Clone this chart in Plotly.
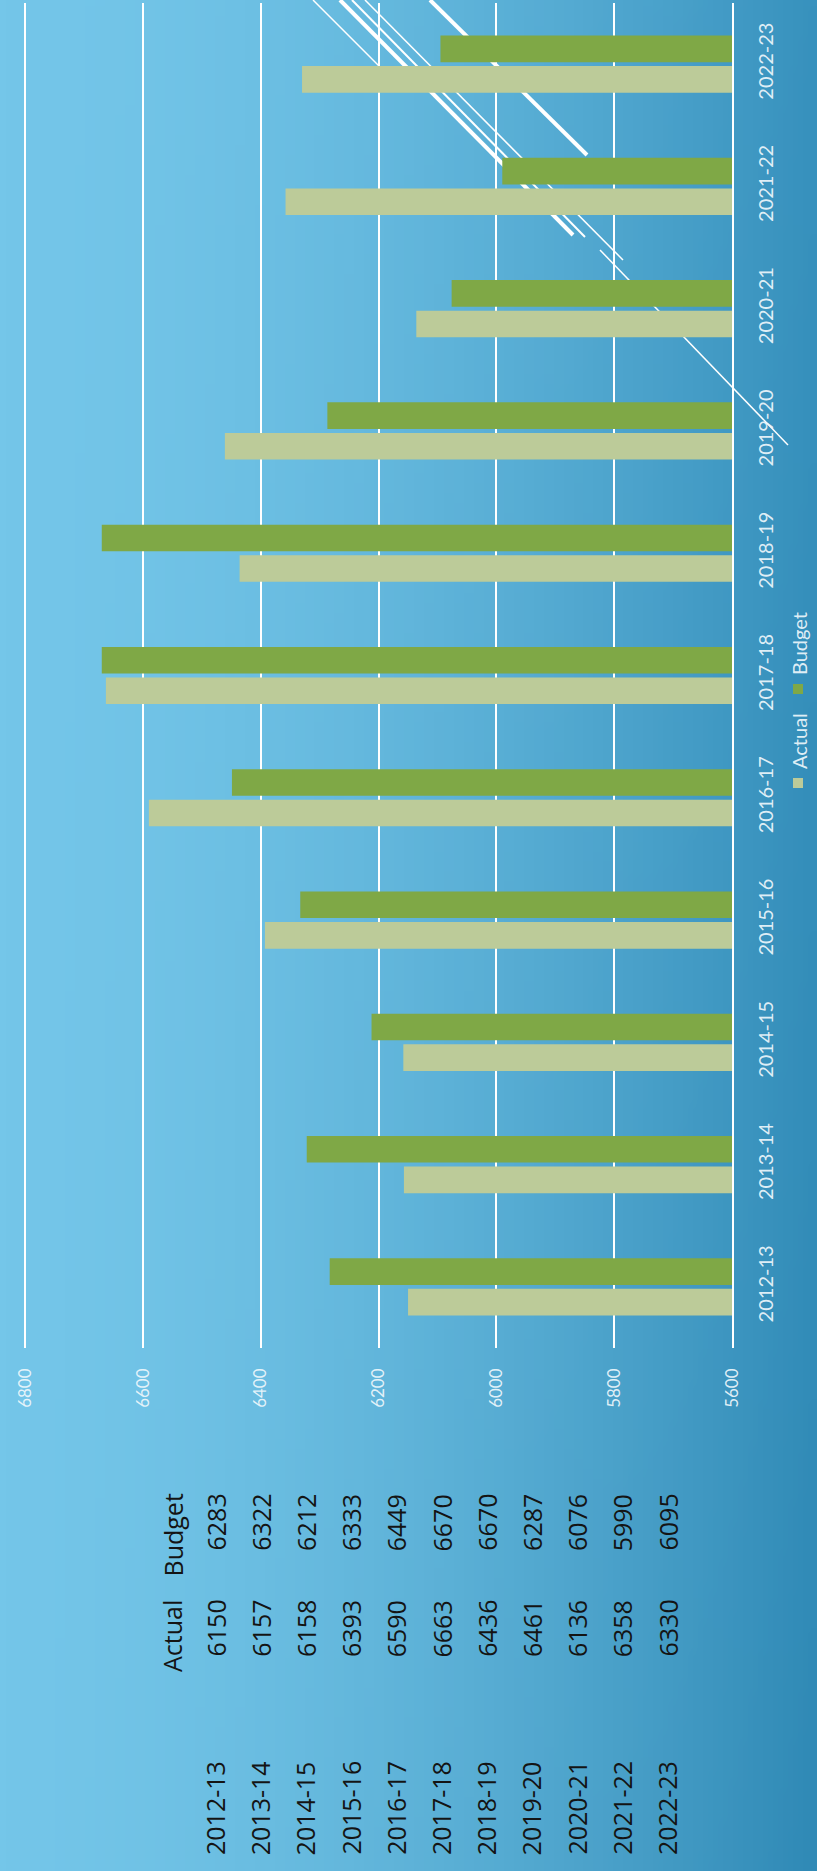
import base64, struct, zlib
import numpy as np
import plotly.graph_objects as go

# ---------------- data ----------------
years = ["2012-13", "2013-14", "2014-15", "2015-16", "2016-17", "2017-18",
         "2018-19", "2019-20", "2020-21", "2021-22", "2022-23"]
actual = [6150, 6157, 6158, 6393, 6590, 6663, 6436, 6461, 6136, 6358, 6330]
budget = [6283, 6322, 6212, 6333, 6449, 6670, 6670, 6287, 6076, 5990, 6095]
value_ticks = [5600, 5800, 6000, 6200, 6400, 6600, 6800]

# ---------------- geometry helpers ----------------
W, H = 817, 1871
ML, MR, MT, MB = 0, 85, 3, 523
PW = W - ML - MR
PH = H - MT - MB


def px(x):
    return (x - ML) / PW


def py(y):
    return (H - MB - y) / PH


# ---------------- background gradient (PNG built in memory) ----------------
gw, gh = 82, 188
u = np.linspace(0, 1, gw)[None, :, None]
v = np.linspace(0, 1, gh)[:, None, None]
left = np.array([116, 198, 233], dtype=float)
right = np.array([56, 146, 190], dtype=float)
t = u ** 1.8
img = left * (1 - t) + right * t
img = img - 8 * (u * v)
img = np.clip(img, 0, 255).astype(np.uint8)


def make_png(a):
    h, w, _ = a.shape
    raw = b"".join(b"\x00" + a[r].tobytes() for r in range(h))

    def chunk(tag, data):
        c = struct.pack(">I", len(data)) + tag + data
        return c + struct.pack(">I", zlib.crc32(tag + data) & 0xFFFFFFFF)

    return (b"\x89PNG\r\n\x1a\n" + chunk(b"IHDR", struct.pack(">IIBBBBB", w, h, 8, 2, 0, 0, 0))
            + chunk(b"IDAT", zlib.compress(raw, 9)) + chunk(b"IEND", b""))


bg_uri = "data:image/png;base64," + base64.b64encode(make_png(img)).decode()

ACTUAL_C = "#bccb99"
BUDGET_C = "#7fa846"
LIGHT = "rgba(240,248,252,0.92)"

fig = go.Figure()
fig.add_trace(go.Bar(name="Actual", y=years, x=actual, orientation="h",
                     marker=dict(color=ACTUAL_C, line=dict(width=0))))
fig.add_trace(go.Bar(name="Budget", y=years, x=budget, orientation="h",
                     marker=dict(color=BUDGET_C, line=dict(width=0))))

x_max = 5600 + (732 - ML) / 117.8 * 200

fig.update_layout(
    width=W, height=H,
    margin=dict(l=ML, r=MR, t=MT, b=MB, pad=0),
    paper_bgcolor="#5fb2da",
    plot_bgcolor="rgba(0,0,0,0)",
    barmode="group", bargap=0.5, bargroupgap=0.13,
    showlegend=False,
    xaxis=dict(range=[x_max, 5600], autorange=False, tickvals=value_ticks,
               ticktext=[str(v) for v in value_ticks],
               showgrid=True, gridcolor="white", gridwidth=2,
               zeroline=False, showline=False, ticks="",
               tickangle=-90, ticklabelstandoff=16,
               tickfont=dict(family="Lato", size=17, color=LIGHT)),
    yaxis=dict(type="category", categoryorder="array", categoryarray=years,
               side="right", showgrid=False, zeroline=False,
               showline=True, linecolor="white", linewidth=2, ticks="",
               tickangle=-90, ticklabelstandoff=15,
               tickfont=dict(family="Lato", size=20, color=LIGHT)),
    images=[dict(source=bg_uri, xref="paper", yref="paper",
                 x=px(0), y=py(0), sizex=W / PW, sizey=H / PH,
                 xanchor="left", yanchor="top", sizing="stretch", layer="below")],
)

# decorative diagonal white lines (background design of the page)
deco = [((313, 0), (380, 67), 1.5), ((340, 0), (573, 235), 4), ((352, 0), (585, 237), 2),
        ((365, 0), (623, 260), 1.5), ((430, 0), (587, 155), 4), ((600, 250), (788, 445), 1.5)]
for (x0, y0), (x1, y1), w in deco:
    fig.add_shape(type="line", xref="paper", yref="paper",
                  x0=px(x0), y0=py(y0), x1=px(x1), y1=py(y1),
                  line=dict(color="white", width=w), layer="between")

# legend (rotated) drawn as squares + text
fig.add_shape(type="rect", xref="paper", yref="paper", x0=px(793), x1=px(803),
              y0=py(788), y1=py(778), fillcolor=ACTUAL_C, line=dict(width=0))
fig.add_shape(type="rect", xref="paper", yref="paper", x0=px(793), x1=px(803),
              y0=py(694), y1=py(684), fillcolor=BUDGET_C, line=dict(width=0))
for label, yc in [("Actual", 741), ("Budget", 644)]:
    fig.add_annotation(text=label, xref="paper", yref="paper", x=px(799), y=py(yc),
                       showarrow=False, textangle=-90, xanchor="center", yanchor="middle",
                       font=dict(family="Lato", size=20, color=LIGHT))

# data table (rotated)
TFONT = dict(family="Open Sans", size=25, color="#141414")
ROW0, ROWSTEP = 215, 45.2
Y_YEARS, Y_ACT, Y_BUD = 1760, 1599, 1493
fig.add_annotation(text="Actual", xref="paper", yref="paper", x=px(172), y=py(Y_ACT),
                   showarrow=False, textangle=-90, xanchor="center", yanchor="top",
                   borderpad=0, font=TFONT)
fig.add_annotation(text="Budget", xref="paper", yref="paper", x=px(172), y=py(Y_BUD),
                   showarrow=False, textangle=-90, xanchor="center", yanchor="top",
                   borderpad=0, font=TFONT)
for i, yr in enumerate(years):
    xc = ROW0 + i * ROWSTEP
    for txt, yt in [(yr, Y_YEARS), (str(actual[i]), Y_ACT), (str(budget[i]), Y_BUD)]:
        fig.add_annotation(text=txt, xref="paper", yref="paper", x=px(xc), y=py(yt),
                           showarrow=False, textangle=-90, xanchor="center", yanchor="top",
                           borderpad=0, font=TFONT)

fig.write_html("out.html")
